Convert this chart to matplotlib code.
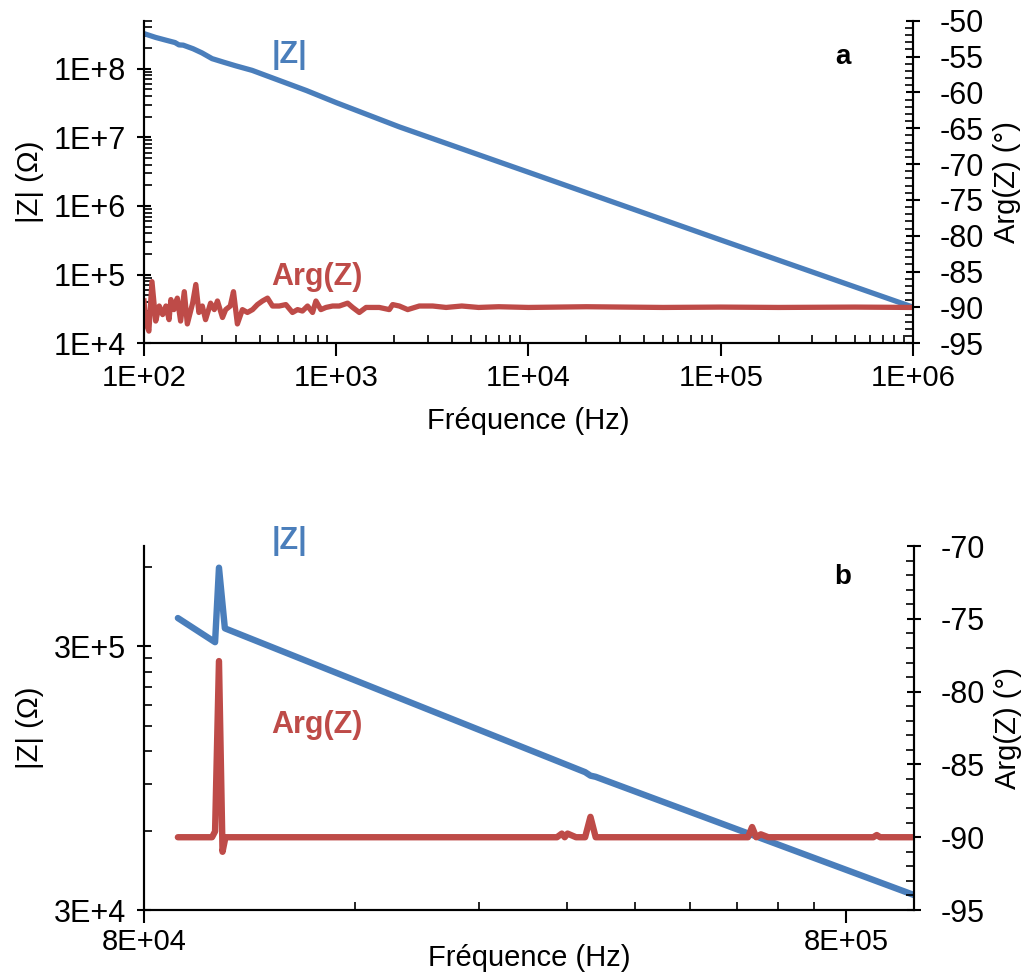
import matplotlib
matplotlib.use('Agg')
import matplotlib.pyplot as plt
from matplotlib.ticker import FixedLocator, NullFormatter, MultipleLocator, LogLocator

plt.rcParams['font.family'] = ['Liberation Sans', 'DejaVu Sans']
plt.rcParams['axes.unicode_minus'] = False

BLUE = '#4a7ebb'
RED = '#be4b48'

# --- panel a : 100 Hz .. 1 MHz ---
freq_za = [100, 115, 130, 145, 152, 160, 180, 200, 226, 260, 300, 365, 450, 700,
           1000, 2128, 1e4, 1e5, 1e6]
mod_za = [3.24e8, 2.85e8, 2.60e8, 2.40e8, 2.22e8, 2.20e8, 1.95e8, 1.70e8, 1.40e8, 1.24e8,
          1.10e8, 9.45e7, 7.60e7, 4.80e7, 3.20e7, 1.42e7, 3.10e6, 3.20e5, 3.36e4]

freq_pa = [100, 102, 106, 110, 115, 120, 125, 130, 135, 138, 143, 149, 155, 162, 168,
           179, 186, 193, 201, 209, 222, 232, 241, 256, 266, 281, 292, 306, 325, 345,
           367, 389, 413, 439, 466, 505, 547, 592, 629, 667, 709, 753, 784, 832, 884,
           957, 1037, 1146, 1217, 1318, 1429, 1675, 1888, 1965, 2128, 2353, 2704, 3175,
           3727, 4500, 5500, 7000, 1e4, 2e4, 5e4, 1e5, 2e5, 5e5, 1e6]
arg_pa = [-89.1, -92.1, -93.3, -86.4, -91.9, -89.8, -91.0, -89.8, -91.7, -88.9, -90.3,
          -88.7, -91.9, -87.8, -92.3, -89.4, -86.8, -90.7, -89.8, -91.7, -89.4, -90.3,
          -89.1, -91.4, -90.3, -89.8, -87.8, -92.3, -90.3, -90.7, -90.3, -89.6, -89.1,
          -88.7, -89.8, -89.8, -89.6, -90.7, -90.3, -90.5, -89.8, -90.7, -89.1, -90.3,
          -90.0, -89.8, -89.8, -89.4, -90.0, -90.7, -90.0, -90.0, -90.3, -89.6, -89.8,
          -90.3, -89.8, -89.8, -90.0, -89.8, -90.0, -89.9, -90.0, -89.9, -90.0, -89.95,
          -90.0, -89.95, -90.0]

# --- panel b : 89 kHz .. 1 MHz (zoom) ---
freq_zb = [8.94e4, 1.01e5, 1.023e5, 1.043e5, 3.40e5, 3.46e5, 3.52e5, 1e6]
mod_zb = [3.84e5, 3.11e5, 5.96e5, 3.51e5, 1.00e5, 9.70e4, 9.60e4, 3.42e4]

freq_pb = [8.94e4, 1.0e5, 1.01e5, 1.023e5, 1.035e5, 1.045e5, 3.10e5, 3.15e5, 3.18e5,
           3.21e5, 3.30e5, 3.40e5, 3.46e5, 3.52e5, 5.70e5, 5.80e5, 5.88e5, 5.96e5,
           6.05e5, 6.20e5, 8.75e5, 8.85e5, 8.95e5, 1e6]
arg_pb = [-90.0, -90.0, -89.6, -77.9, -91.0, -90.0, -90.0, -89.75, -90.0, -89.75,
          -90.0, -90.0, -88.6, -90.0, -90.0, -90.0, -89.3, -90.0, -89.8, -90.0,
          -90.0, -89.85, -90.0, -90.0]


def style_axes(ax, ax2):
    ax.spines['top'].set_visible(False)
    ax2.spines['top'].set_visible(False)
    for a in (ax, ax2):
        for s in a.spines.values():
            s.set_linewidth(1.5)
    ax.tick_params(axis='y', which='major', direction='inout', length=10, width=1.5,
                   labelsize=22, pad=8)
    ax.tick_params(axis='y', which='minor', direction='in', length=6, width=1.2)
    ax.tick_params(axis='x', which='major', direction='out', length=9, width=1.5,
                   labelsize=21, pad=6)
    ax.tick_params(axis='x', which='minor', direction='in', length=6, width=1.2)
    ax2.tick_params(axis='y', which='major', direction='inout', length=10, width=1.5,
                    labelsize=22, pad=14)
    ax2.tick_params(axis='y', which='minor', direction='in', length=6, width=1.2)
    ax.yaxis.set_label_coords(-0.13, 0.5)
    ax2.yaxis.set_label_coords(1.104, 0.5)


fig = plt.figure(figsize=(10.25, 9.8), dpi=100)

# panel a
ax = fig.add_axes([0.1405, 0.6497, 0.7502, 0.3292])
ax2 = ax.twinx()
ax.plot(freq_za, mod_za, color=BLUE, lw=3.8, solid_capstyle='round')
ax2.plot(freq_pa, arg_pa, color=RED, lw=3.8)
ax.set_xscale('log')
ax.set_yscale('log')
ax.set_xlim(100, 1e6)
ax.set_ylim(1e4, 5e8)
ax2.set_ylim(-95, -50)
ax.set_xticks([1e2, 1e3, 1e4, 1e5, 1e6], ['1E+02', '1E+03', '1E+04', '1E+05', '1E+06'])
ax.xaxis.set_minor_locator(LogLocator(base=10, subs=range(2, 10)))
ax.xaxis.set_minor_formatter(NullFormatter())
ax.set_yticks([1e4, 1e5, 1e6, 1e7, 1e8], ['1E+4', '1E+5', '1E+6', '1E+7', '1E+8'])
ax.yaxis.set_minor_locator(LogLocator(base=10, subs=range(2, 10)))
ax.yaxis.set_minor_formatter(NullFormatter())
ax2.yaxis.set_major_locator(MultipleLocator(5))
ax2.yaxis.set_minor_locator(MultipleLocator(1))
ax.set_xlabel('Fréquence (Hz)', fontsize=21, labelpad=11)
ax.set_ylabel('|Z| (Ω)', fontsize=21)
ax2.set_ylabel('Arg(Z) (°)', fontsize=21)
style_axes(ax, ax2)
fig.text(289 / 1025, 1 - 55 / 980, '|Z|', color=BLUE, fontsize=22, fontweight='bold',
         ha='center', va='center')
fig.text(317 / 1025, 1 - 277 / 980, 'Arg(Z)', color=RED, fontsize=22, fontweight='bold',
         ha='center', va='center')
fig.text(843 / 1025, 1 - 57 / 980, 'a', color='black', fontsize=20, fontweight='bold',
         ha='center', va='center')

# panel b
bx = fig.add_axes([0.1405, 0.0714, 0.7512, 0.3714])
bx2 = bx.twinx()
bx.plot(freq_zb, mod_zb, color=BLUE, lw=4.6, solid_capstyle='round')
bx2.plot(freq_pb, arg_pb, color=RED, lw=4.6, solid_capstyle='round')
bx.set_xscale('log')
bx.set_yscale('log')
bx.set_xlim(8e4, 1e6)
bx.set_ylim(3e4, 7.2e5)
bx2.set_ylim(-95, -70)
bx.set_xticks([8e4, 8e5], ['8E+04', '8E+05'])
bx.xaxis.set_minor_locator(FixedLocator([8e4 * k for k in range(2, 10)]))
bx.xaxis.set_minor_formatter(NullFormatter())
bx.set_yticks([3e4, 3e5], ['3E+4', '3E+5'])
bx.yaxis.set_minor_locator(FixedLocator([3e4 * k for k in range(2, 10)] + [6e5]))
bx.yaxis.set_minor_formatter(NullFormatter())
bx2.yaxis.set_major_locator(MultipleLocator(5))
bx2.yaxis.set_minor_locator(MultipleLocator(1))
bx.set_xlabel('Fréquence (Hz)', fontsize=21, labelpad=-9)
bx.set_ylabel('|Z| (Ω)', fontsize=21)
bx2.set_ylabel('Arg(Z) (°)', fontsize=21)
style_axes(bx, bx2)
bx.tick_params(axis='x', which='major', pad=4)
fig.text(289 / 1025, 1 - 541 / 980, '|Z|', color=BLUE, fontsize=22, fontweight='bold',
         ha='center', va='center')
fig.text(317 / 1025, 1 - 725 / 980, 'Arg(Z)', color=RED, fontsize=22, fontweight='bold',
         ha='center', va='center')
fig.text(843 / 1025, 1 - 577 / 980, 'b', color='black', fontsize=20, fontweight='bold',
         ha='center', va='center')

fig.savefig('out.png', dpi=100)
